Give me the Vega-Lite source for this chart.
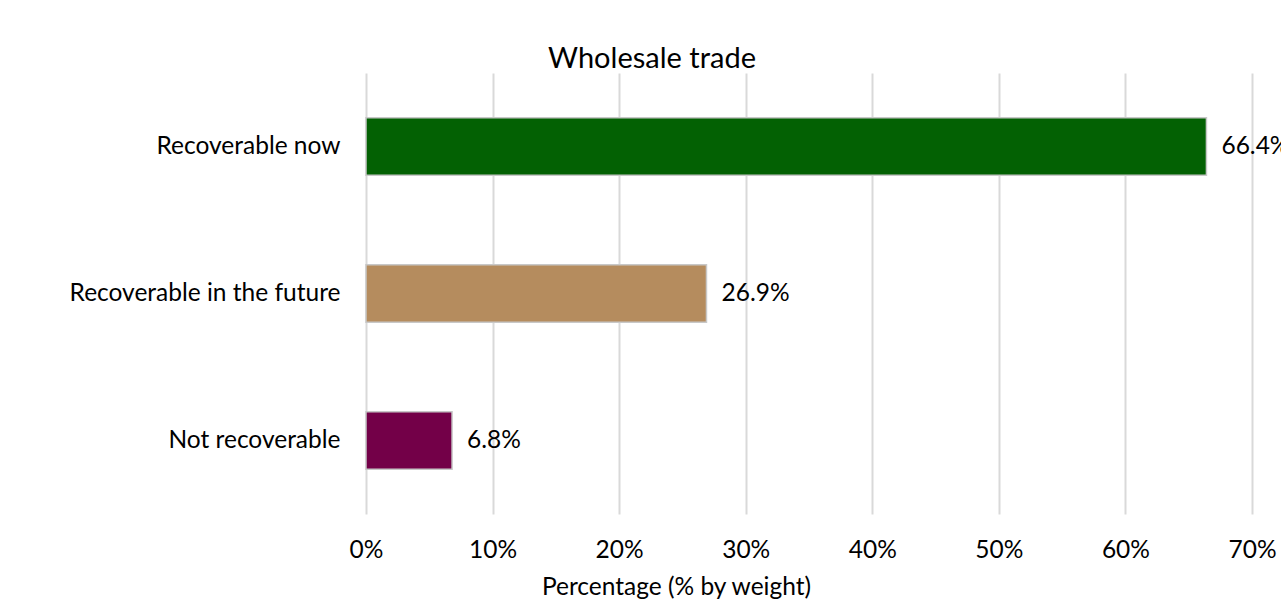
{
  "$schema": "https://vega.github.io/schema/vega-lite/v6.json",
  "autosize": {"type": "none"},
  "padding": {"left": 366, "top": 73, "right": 29, "bottom": 94},
  "width": 886,
  "height": 441,
  "background": "white",
  "title": {
    "text": "Wholesale trade",
    "font": "Lato",
    "fontSize": 29,
    "fontWeight": "normal",
    "color": "#000000",
    "anchor": "middle",
    "dx": -157,
    "offset": -1,
    "frame": "group"
  },
  "config": {
    "view": {"stroke": null},
    "font": "Lato"
  },
  "data": {
    "values": [
      {"category": "Recoverable now", "value": 0.664, "label": "66.4%"},
      {"category": "Recoverable in the future", "value": 0.269, "label": "26.9%"},
      {"category": "Not recoverable", "value": 0.068, "label": "6.8%"}
    ]
  },
  "encoding": {
    "y": {
      "field": "category",
      "type": "nominal",
      "sort": null,
      "scale": {"paddingInner": 0.61, "paddingOuter": 0.305},
      "axis": {
        "title": null,
        "domain": false,
        "ticks": false,
        "labelPadding": 26,
        "labelFontSize": 24.5,
        "labelLimit": 0,
        "labelColor": "#000000",
        "labelFont": "Lato"
      }
    },
    "x": {
      "field": "value",
      "type": "quantitative",
      "scale": {"domain": [0, 0.7], "nice": false},
      "axis": {
        "title": "Percentage (% by weight)",
        "titleFontSize": 24.5,
        "titleFontWeight": "normal",
        "titleColor": "#000000",
        "titleX": 310,
        "titleAlign": "center",
        "titleAnchor": "start",
        "titlePadding": 14,
        "format": ".0%",
        "values": [0, 0.1, 0.2, 0.3, 0.4, 0.5, 0.6, 0.7],
        "domain": false,
        "ticks": false,
        "labelFlush": false,
        "labelPadding": 24,
        "labelFontSize": 24.5,
        "labelColor": "#000000",
        "gridColor": "#d9d9d9",
        "gridWidth": 2
      }
    }
  },
  "layer": [
    {
      "mark": {"type": "bar", "stroke": "#c8c8c8", "strokeWidth": 1.5},
      "encoding": {
        "color": {
          "field": "category",
          "type": "nominal",
          "scale": {
            "domain": ["Recoverable now", "Recoverable in the future", "Not recoverable"],
            "range": ["#036103", "#b58c5e", "#730048"]
          },
          "legend": null
        }
      }
    },
    {
      "mark": {"type": "text", "align": "left", "dx": 15, "fontSize": 24.5, "color": "#000000", "font": "Lato"},
      "encoding": {"text": {"field": "label"}}
    }
  ]
}
